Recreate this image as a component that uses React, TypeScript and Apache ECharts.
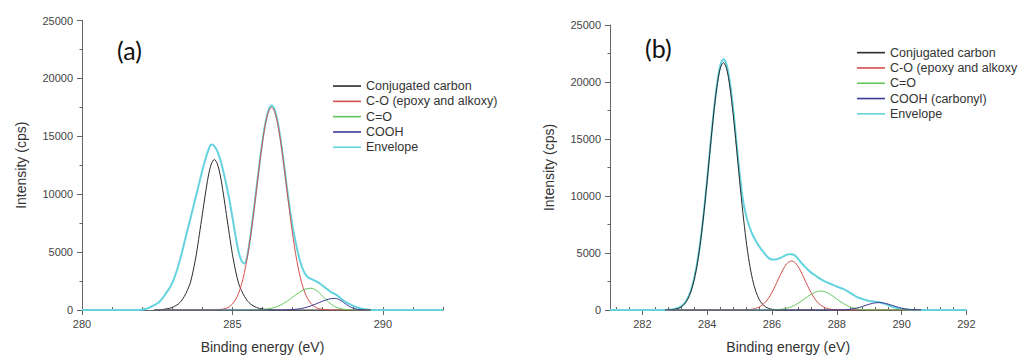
import React, { useEffect, useRef } from 'react';
import * as echarts from 'echarts';

// ---------- Panel (a) ----------
const legendA = ['Conjugated carbon', 'C-O (epoxy and alkoxy)', 'C=O', 'COOH', 'Envelope'];

const aEnvelope: [number, number][] = [
  [280, 0], [281.8, 0], [282.0, 30], [282.1, 80], [282.2, 160], [282.3, 290], [282.4, 420], [282.5, 560],
  [282.6, 780], [282.7, 1100], [282.8, 1480], [282.9, 1850], [283.0, 2350], [283.1, 3000], [283.2, 3800],
  [283.3, 4750], [283.4, 5800], [283.5, 6850], [283.6, 7850], [283.7, 8900], [283.8, 9950], [283.9, 11000],
  [284.0, 12050], [284.1, 13000], [284.2, 13800], [284.3, 14300], [284.4, 14150], [284.5, 13700],
  [284.6, 12950], [284.7, 11950], [284.8, 10800], [284.9, 9500], [285.0, 8000], [285.1, 6450], [285.2, 5100],
  [285.3, 4250], [285.4, 4000], [285.5, 4750], [285.6, 6400], [285.7, 8400], [285.8, 10500], [285.9, 12650],
  [286.0, 14600], [286.1, 16200], [286.2, 17250], [286.3, 17650], [286.4, 17300], [286.5, 16300],
  [286.6, 14750], [286.7, 12850], [286.8, 10800], [286.9, 8900], [287.0, 7200], [287.1, 5900], [287.2, 4700],
  [287.3, 3800], [287.4, 3200], [287.5, 2850], [287.6, 2700], [287.7, 2580], [287.8, 2450], [287.9, 2300],
  [288.0, 2100], [288.1, 1900], [288.2, 1700], [288.3, 1500], [288.4, 1400], [288.5, 1220], [288.6, 1000],
  [288.7, 800], [288.8, 640], [288.9, 500], [289.0, 380], [289.1, 270], [289.2, 180], [289.3, 120],
  [289.4, 70], [289.5, 35], [289.6, 10], [289.7, 0], [292, 0],
];

const aConjugated: [number, number][] = [
  [282.4, 0], [282.5, 13], [282.6, 26], [282.7, 52], [282.8, 91], [282.9, 143], [283.0, 221], [283.1, 351],
  [283.2, 520], [283.3, 780], [283.4, 1170], [283.5, 1690], [283.6, 2340], [283.7, 3445], [283.8, 4810],
  [283.9, 6500], [284.0, 8255], [284.1, 10010], [284.2, 11570], [284.3, 12610], [284.4, 13000],
  [284.5, 12610], [284.6, 11570], [284.7, 10010], [284.8, 8255], [284.9, 6500], [285.0, 4810], [285.1, 3445],
  [285.2, 2340], [285.3, 1690], [285.4, 1170], [285.5, 780], [285.6, 520], [285.7, 351], [285.8, 221],
  [285.9, 143], [286.0, 91], [286.1, 52], [286.2, 26], [286.3, 13], [286.4, 0], [289.6, 0],
];

const aCO: [number, number][] = [
  [282.4, 0], [284.3, 0], [284.4, 9], [284.5, 21], [284.6, 42], [284.7, 85], [284.8, 160], [284.9, 295],
  [285.0, 520], [285.1, 870], [285.2, 1410], [285.3, 2180], [285.4, 3240], [285.5, 4615], [285.6, 6310],
  [285.7, 8270], [285.8, 10395], [285.9, 12550], [286.0, 14510], [286.1, 16100], [286.2, 17130],
  [286.3, 17500], [286.4, 17150], [286.5, 16150], [286.6, 14610], [286.7, 12700], [286.8, 10620],
  [286.9, 8520], [287.0, 6560], [287.1, 4865], [287.2, 3465], [287.3, 2360], [287.4, 1560], [287.5, 980],
  [287.6, 595], [287.7, 350], [287.8, 190], [287.9, 105], [288.0, 52], [288.1, 26], [288.2, 12], [288.3, 0],
  [289.6, 0],
];

const aCeqO: [number, number][] = [
  [282.4, 0], [285.5, 0], [285.6, 5], [285.7, 9], [285.8, 15], [285.9, 26], [286.0, 42], [286.1, 66],
  [286.2, 102], [286.3, 153], [286.4, 221], [286.5, 311], [286.6, 426], [286.7, 564], [286.8, 726],
  [286.9, 908], [287.0, 1101], [287.1, 1297], [287.2, 1482], [287.3, 1645], [287.4, 1771], [287.5, 1852],
  [287.6, 1880], [287.7, 1827], [287.8, 1679], [287.9, 1457], [288.0, 1194], [288.1, 925], [288.2, 677],
  [288.3, 468], [288.4, 306], [288.5, 189], [288.6, 111], [288.7, 61], [288.8, 32], [288.9, 16], [289.0, 7],
  [289.1, 3], [289.2, 0], [289.6, 0],
];

const aCOOH: [number, number][] = [
  [282.4, 0], [286.4, 0], [286.5, 3], [286.6, 5], [286.7, 8], [286.8, 15], [286.9, 24], [287.0, 39],
  [287.1, 61], [287.2, 93], [287.3, 135], [287.4, 191], [287.5, 262], [287.6, 347], [287.7, 445],
  [287.8, 552], [287.9, 661], [288.0, 768], [288.1, 862], [288.2, 936], [288.3, 984], [288.4, 1000],
  [288.5, 952], [288.6, 823], [288.7, 644], [288.8, 458], [288.9, 295], [289.0, 172], [289.1, 91],
  [289.2, 44], [289.3, 19], [289.4, 8], [289.5, 3], [289.6, 0],
];

// ---------- Panel (b) ----------
const legendB = ['Conjugated carbon', 'C-O (epoxy and alkoxy', 'C=O', 'COOH (carbonyl)', 'Envelope'];

const bEnvelope: [number, number][] = [
  [281, 0], [282.6, 0], [282.8, 20], [283.0, 100], [283.1, 180], [283.2, 330], [283.3, 600], [283.4, 1050],
  [283.5, 1750], [283.6, 2800], [283.7, 4300], [283.8, 6250], [283.9, 8700], [284.0, 11500], [284.1, 14500],
  [284.2, 17350], [284.3, 19750], [284.4, 21400], [284.5, 22000], [284.6, 21500], [284.7, 20000],
  [284.8, 17700], [284.9, 14800], [285.0, 12000], [285.1, 9700], [285.2, 8300], [285.3, 7350], [285.4, 6600],
  [285.5, 6050], [285.6, 5600], [285.7, 5200], [285.8, 4850], [285.9, 4550], [286.0, 4420], [286.1, 4420],
  [286.2, 4500], [286.3, 4620], [286.4, 4780], [286.5, 4880], [286.6, 4900], [286.7, 4800], [286.8, 4500],
  [286.9, 4150], [287.0, 3850], [287.1, 3550], [287.2, 3300], [287.3, 3100], [287.4, 2900], [287.5, 2700],
  [287.6, 2550], [287.7, 2420], [287.8, 2300], [287.9, 2180], [288.0, 2060], [288.1, 1950], [288.2, 1850],
  [288.3, 1700], [288.4, 1530], [288.5, 1350], [288.6, 1180], [288.7, 1050], [288.8, 950], [288.9, 870],
  [289.0, 800], [289.1, 760], [289.2, 720], [289.3, 690], [289.4, 620], [289.5, 520], [289.6, 410],
  [289.7, 300], [289.8, 210], [289.9, 140], [290.0, 90], [290.2, 30], [290.4, 0], [292, 0],
];

const bConjugated: [number, number][] = [
  [282.7, 0], [282.8, 13], [282.9, 28], [283.0, 65], [283.1, 137], [283.2, 276], [283.3, 527], [283.4, 953],
  [283.5, 1641], [283.6, 2669], [283.7, 4145], [283.8, 6119], [283.9, 8572], [284.0, 11371], [284.1, 14365],
  [284.2, 17208], [284.3, 19573], [284.4, 21158], [284.5, 21700], [284.6, 21158], [284.7, 19573],
  [284.8, 17208], [284.9, 14365], [285.0, 11371], [285.1, 8572], [285.2, 6119], [285.3, 4145], [285.4, 2669],
  [285.5, 1641], [285.6, 953], [285.7, 527], [285.8, 276], [285.9, 137], [286.0, 65], [286.1, 28],
  [286.2, 13], [286.3, 0], [290.6, 0],
];

const bCO: [number, number][] = [
  [282.7, 0], [284.9, 0], [285.0, 3], [285.1, 7], [285.2, 17], [285.3, 36], [285.4, 73], [285.5, 139],
  [285.6, 253], [285.7, 433], [285.8, 701], [285.9, 1071], [286.0, 1548], [286.1, 2116], [286.2, 2731],
  [286.3, 3333], [286.4, 3840], [286.5, 4180], [286.6, 4300], [286.7, 4180], [286.8, 3840], [286.9, 3333],
  [287.0, 2731], [287.1, 2116], [287.2, 1548], [287.3, 1071], [287.4, 701], [287.5, 433], [287.6, 253],
  [287.7, 139], [287.8, 73], [287.9, 36], [288.0, 17], [288.1, 7], [288.2, 3], [288.3, 0], [290.6, 0],
];

const bCeqO: [number, number][] = [
  [282.7, 0], [285.7, 0], [285.8, 3], [285.9, 6], [286.0, 13], [286.1, 24], [286.2, 42], [286.3, 73],
  [286.4, 120], [286.5, 190], [286.6, 286], [286.7, 414], [286.8, 573], [286.9, 760], [287.0, 965],
  [287.1, 1173], [287.2, 1366], [287.3, 1522], [287.4, 1624], [287.5, 1660], [287.6, 1624], [287.7, 1522],
  [287.8, 1366], [287.9, 1173], [288.0, 965], [288.1, 760], [288.2, 573], [288.3, 414], [288.4, 286],
  [288.5, 190], [288.6, 120], [288.7, 73], [288.8, 42], [288.9, 24], [289.0, 13], [289.1, 6], [289.2, 3],
  [289.3, 0], [290.6, 0],
];

const bCOOH: [number, number][] = [
  [282.7, 0], [287.8, 0], [287.9, 3], [288.0, 5], [288.1, 11], [288.2, 21], [288.3, 38], [288.4, 65],
  [288.5, 106], [288.6, 162], [288.7, 234], [288.8, 320], [288.9, 413], [289.0, 504], [289.1, 580],
  [289.2, 632], [289.3, 650], [289.4, 632], [289.5, 580], [289.6, 504], [289.7, 413], [289.8, 320],
  [289.9, 234], [290.0, 162], [290.1, 106], [290.2, 65], [290.3, 38], [290.4, 21], [290.5, 11], [290.6, 0],
];

// ---------- Ticks ----------
const aMajorTicks = [280, 285, 290];
const bMajorTicks = [282, 284, 286, 288, 290, 292];
const bMinorTicks = [
  281.2, 281.6, 282.4, 282.8, 283.2, 283.6, 284.4, 284.8, 285.2, 285.6, 286.4, 286.8, 287.2, 287.6,
  288.4, 288.8, 289.2, 289.6, 290.4, 290.8, 291.2, 291.6,
];

const colors = ['#2b2b2b', '#d24f4c', '#62c65a', '#3b3b98', '#63d3dd'];
const AXIS = '#666';
const LABEL = '#444';
const FONT = '"Liberation Sans", Arial, sans-serif';

export default function App() {
  const ref = useRef<HTMLDivElement>(null);

  useEffect(() => {
    document.body.style.margin = '0';
    const chart = echarts.init(ref.current!, null, { renderer: 'svg' });

    const fmt = (v: number) => String(v);

    const majorX = (gridIndex: number, min: number, ticks: number[]) => ({
      type: 'value',
      gridIndex,
      position: 'bottom',
      min,
      max: 292,
      name: 'Binding energy (eV)',
      nameLocation: 'middle',
      nameGap: 30,
      nameTextStyle: { fontSize: 14, color: '#333', fontFamily: FONT },
      axisLine: { show: true, onZero: false, lineStyle: { color: AXIS, width: 1 } },
      axisTick: { show: true, inside: false, length: 5, lineStyle: { color: AXIS }, customValues: ticks },
      axisLabel: {
        fontSize: 11, color: LABEL, margin: 8, fontFamily: FONT, formatter: fmt, customValues: ticks,
      },
      splitLine: { show: false },
    });

    const minorX = (gridIndex: number, min: number, extra: any) => ({
      type: 'value',
      gridIndex,
      position: 'bottom',
      min,
      max: 292,
      axisLine: { show: false, onZero: false },
      axisLabel: { show: false },
      splitLine: { show: false },
      ...extra,
    });

    const yAx = (gridIndex: number) => ({
      type: 'value',
      gridIndex,
      min: 0,
      max: 25000,
      interval: 5000,
      name: 'Intensity (cps)',
      nameLocation: 'middle',
      nameRotate: 90,
      nameGap: 54,
      nameTextStyle: { fontSize: 14, color: '#333', fontFamily: FONT },
      axisLine: { show: true, onZero: false, lineStyle: { color: AXIS, width: 1 } },
      axisTick: { show: true, inside: false, length: 5, lineStyle: { color: AXIS } },
      minorTick: { show: true, splitNumber: 2, length: 2.5, lineStyle: { color: AXIS } },
      axisLabel: { fontSize: 11, color: LABEL, margin: 9, fontFamily: FONT, formatter: fmt },
      splitLine: { show: false },
    });

    const mkSeries = (xi: number, yi: number, names: string[], datas: [number, number][][]) => {
      const order = [4, 0, 1, 2, 3];
      return order.map((i) => ({
        type: 'line',
        name: names[i],
        xAxisIndex: xi,
        yAxisIndex: yi,
        data: datas[i],
        showSymbol: false,
        symbol: 'none',
        smooth: 0.3,
        lineStyle: { color: colors[i], width: i === 4 ? 2 : 1 },
        itemStyle: { color: colors[i] },
        z: i === 4 ? 2 : 3,
      }));
    };

    const legendBase = {
      orient: 'vertical',
      padding: 0,
      itemGap: 0,
      itemWidth: 28,
      itemHeight: 1.6,
      icon: 'rect',
      selectedMode: false,
      textStyle: { fontSize: 12.5, color: '#333', lineHeight: 15.3, fontFamily: FONT },
    };

    const option: any = {
      animation: false,
      backgroundColor: '#ffffff',
      grid: [
        { left: 82, top: 20.5, width: 361, height: 291.5 },
        { left: 610, top: 25, width: 356.4, height: 288.5 },
      ],
      xAxis: [
        majorX(0, 280, aMajorTicks),
        minorX(0, 280, { interval: 1, axisTick: { show: true, inside: true, length: 3, lineStyle: { color: AXIS } } }),
        majorX(1, 281, bMajorTicks),
        minorX(1, 281, {
          axisTick: { show: true, inside: true, length: 3, lineStyle: { color: AXIS }, customValues: bMinorTicks },
        }),
      ],
      yAxis: [yAx(0), yAx(1)],
      legend: [
        { ...legendBase, left: 333, top: 78.4, data: legendA },
        { ...legendBase, left: 857, top: 45, data: legendB },
      ],
      graphic: [
        {
          type: 'text', left: 117, top: 37,
          style: { text: '(a)', fontSize: 25, fontFamily: 'Lato, "Open Sans", sans-serif', fill: '#111' },
        },
        {
          type: 'text', left: 645, top: 35,
          style: { text: '(b)', fontSize: 25, fontFamily: 'Lato, "Open Sans", sans-serif', fill: '#111' },
        },
      ],
      series: [
        ...mkSeries(0, 0, legendA, [aConjugated, aCO, aCeqO, aCOOH, aEnvelope]),
        ...mkSeries(2, 1, legendB, [bConjugated, bCO, bCeqO, bCOOH, bEnvelope]),
      ],
    };

    chart.setOption(option);
    return () => chart.dispose();
  }, []);

  return <div ref={ref} style={{ width: 1020, height: 359, background: '#fff' }} />;
}
